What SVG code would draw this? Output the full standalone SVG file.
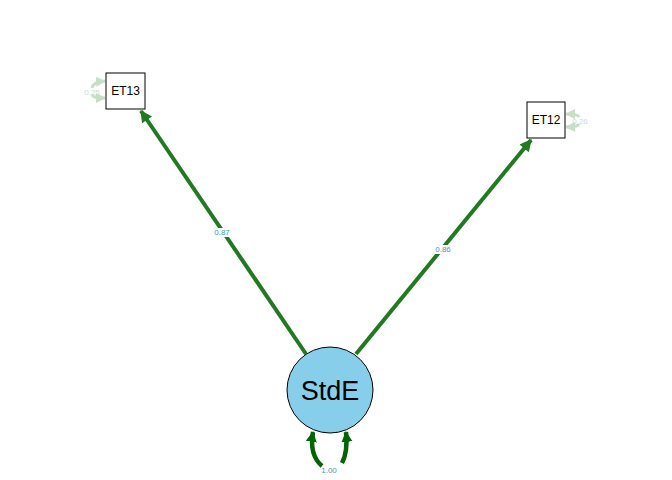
<svg xmlns="http://www.w3.org/2000/svg" width="672" height="480" viewBox="0 0 672 480">
<defs>
<marker id="ah" viewBox="0 0 10 10" refX="9" refY="5" markerWidth="14" markerHeight="12" markerUnits="userSpaceOnUse" orient="auto"><path d="M0,0 L10,5 L0,10 Z" fill="#217a21"/></marker>
<marker id="ahd" viewBox="0 0 10 10" refX="9" refY="5" markerWidth="11" markerHeight="12" markerUnits="userSpaceOnUse" orient="auto"><path d="M0,0 L10,5 L0,10 Z" fill="#006400"/></marker>
<marker id="ahf" viewBox="0 0 10 10" refX="9" refY="5" markerWidth="10" markerHeight="10" markerUnits="userSpaceOnUse" orient="auto"><path d="M0,0 L10,5 L0,10 Z" fill="#c6dfc6"/></marker>
</defs>
<style>
.edge{fill:none;stroke:#217a21;stroke-width:4}
.loop{fill:none;stroke:#006400;stroke-width:4.5}
.res{fill:none;stroke:#c6dfc6;stroke-width:3}
.lbl{font-family:"Liberation Sans",Arial,sans-serif;font-size:8px;fill:#4a9ab0;text-anchor:middle;dominant-baseline:central}
.rl{font-family:"Liberation Sans",Arial,sans-serif;font-size:8px;fill:#c8dcdc;text-anchor:middle;dominant-baseline:central}
.box{fill:#fff;stroke:#000;stroke-width:1}
.nt{font-family:"Liberation Sans",Arial,sans-serif;font-size:12px;fill:#000;text-anchor:middle;dominant-baseline:central}
</style>
<rect width="672" height="480" fill="#fff"/>
<g id="connectors">
<path class="edge" d="M306,354 L141,111" marker-end="url(#ah)"/>
<path class="edge" d="M356,354 L531,140" marker-end="url(#ah)"/>
<rect x="212" y="228" width="20" height="9" fill="#fff"/>
<text class="lbl" x="222" y="232">0.87</text>
<rect x="433" y="245" width="20" height="9" fill="#fff"/>
<text class="lbl" x="443" y="249">0.86</text>
<path class="loop" d="M322,466 Q309,455 313,432" marker-end="url(#ahd)"/>
<path class="loop" d="M342,463 Q348,452 346,432" marker-end="url(#ahd)"/>
<text class="lbl" x="329" y="470">1.00</text>
<path class="res" d="M92,88 Q93,82 105,81" marker-end="url(#ahf)"/>
<path class="res" d="M92,95 Q93,98 105,98" marker-end="url(#ahf)"/>
<text class="rl" x="92" y="92">0.25</text>
<path class="res" d="M579,117 Q578,114 566,114" marker-end="url(#ahf)"/>
<path class="res" d="M579,124 Q578,127 566,127" marker-end="url(#ahf)"/>
<text class="rl" x="580" y="121">0.26</text>
</g>
<g id="ET13">
<rect class="box" x="106" y="73" width="39" height="36"/>
<text class="nt" x="125.5" y="91">ET13</text>
</g>
<g id="ET12">
<rect class="box" x="527" y="102" width="38" height="36"/>
<text class="nt" x="546" y="120">ET12</text>
</g>
<g id="StdE">
<circle cx="330" cy="390" r="43" fill="#87ceeb" stroke="#000" stroke-width="1"/>
<text x="330" y="391" font-family="'Liberation Sans',Arial,sans-serif" font-size="27" text-anchor="middle" dominant-baseline="central" fill="#000">StdE</text>
</g>
</svg>
